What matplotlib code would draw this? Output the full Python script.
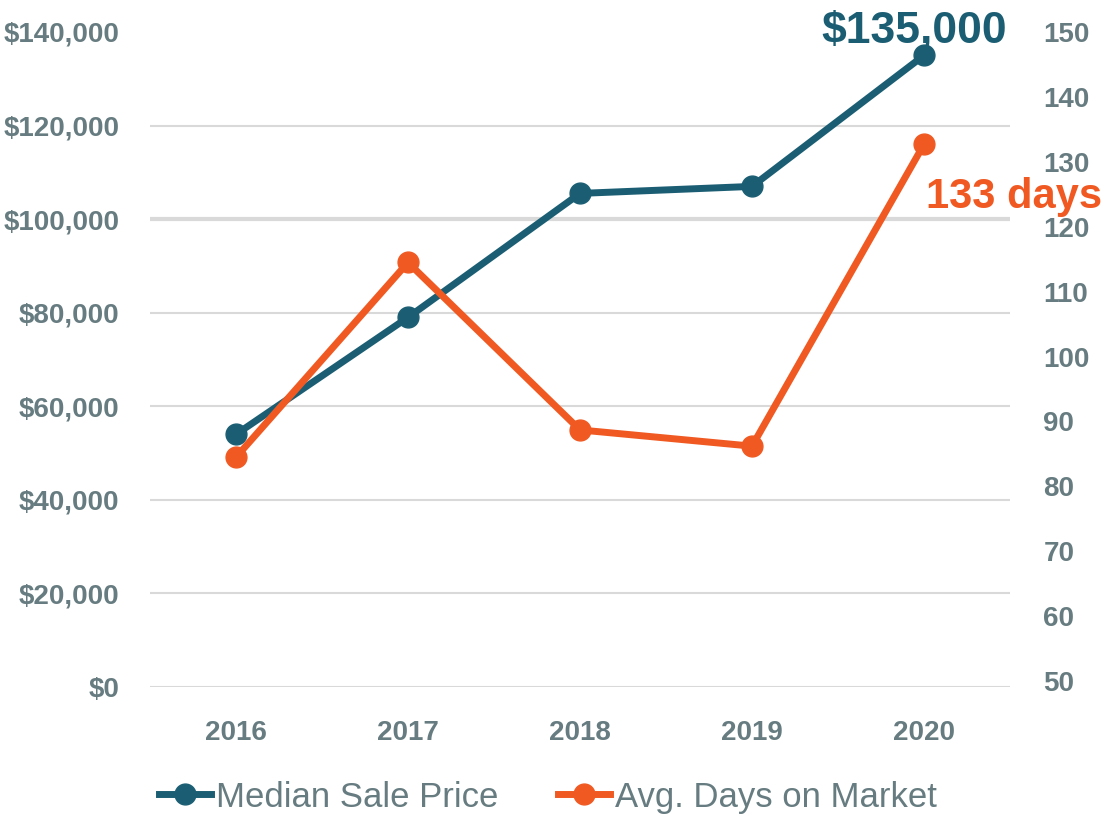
import numpy as np
import matplotlib.pyplot as plt
from matplotlib.lines import Line2D

plt.rcParams['font.family'] = ['Liberation Sans', 'DejaVu Sans']

# data
years = ["2016", "2017", "2018", "2019", "2020"]
median_price = [54000, 79000, 105500, 107000, 135000]
days_on_market = [84.5, 114.5, 88.7, 86.2, 132.7]
price_ticks = [0, 20000, 40000, 60000, 80000, 100000, 120000, 140000]
day_ticks = [50, 60, 70, 80, 90, 100, 110, 120, 130, 140, 150]

teal = "#1b5e73"
orange = "#f05a22"
tick_gray = "#677c80"
grid_gray = "#d9d9d9"

fig = plt.figure(figsize=(11.14, 8.22), dpi=100)
ax = fig.add_axes([150/1114, 1 - 687/822, 860/1114, 655/822])
ax2 = ax.twinx()

x = np.arange(len(years))

# gridlines (no line at the top value)
for t in price_ticks[:-1]:
    lw = 3 if t == 100000 else 1.5
    ax.axhline(t, color=grid_gray, lw=lw, zorder=0)

ax.plot(x, median_price, color=teal, lw=5, marker="o", ms=15, zorder=3)
ax2.plot(x, days_on_market, color=orange, lw=5, marker="o", ms=15, zorder=3)

ax.set_xlim(-0.5, 4.5)
ax.set_ylim(0, 140000)
ax2.set_ylim(49.1, 150)

ax.set_xticks(x)
ax.set_xticklabels(years)
ax.set_yticks(price_ticks)
ax.set_yticklabels(["${:,.0f}".format(v) for v in price_ticks])
ax2.set_yticks(day_ticks)
ax2.set_yticklabels([str(v) for v in day_ticks])

for a in (ax, ax2):
    for s in a.spines.values():
        s.set_visible(False)
    a.tick_params(length=0, labelcolor=tick_gray, labelsize=20)
    for lab in a.get_xticklabels() + a.get_yticklabels():
        lab.set_fontweight("bold")
ax.tick_params(axis="y", pad=22)
ax.tick_params(axis="x", pad=24)
ax2.tick_params(axis="y", pad=24)

# callouts
ax.annotate("${:,.0f}".format(median_price[-1]), xy=(x[-1], median_price[-1]),
            xytext=(-7, 17), textcoords="offset points", ha="center", va="center",
            fontsize=32, fontweight="bold", color=teal)
ax2.annotate("{:.0f} days".format(days_on_market[-1]), xy=(x[-1], days_on_market[-1]),
             xytext=(65, -38), textcoords="offset points", ha="center", va="center",
             fontsize=30, fontweight="bold", color=orange, zorder=5)

handles = [
    Line2D([], [], color=teal, lw=5, marker="o", ms=15),
    Line2D([], [], color=orange, lw=5, marker="o", ms=15),
]
leg = fig.legend(handles, ["Median Sale Price", "Avg. Days on Market"],
                 loc="center", bbox_to_anchor=(548/1114, 1 - 797/822), ncol=2,
                 frameon=False, fontsize=25, handlelength=1.5, handletextpad=0.15,
                 columnspacing=1.7)
for t in leg.get_texts():
    t.set_color(tick_gray)

fig.savefig("out.png", dpi=100)
